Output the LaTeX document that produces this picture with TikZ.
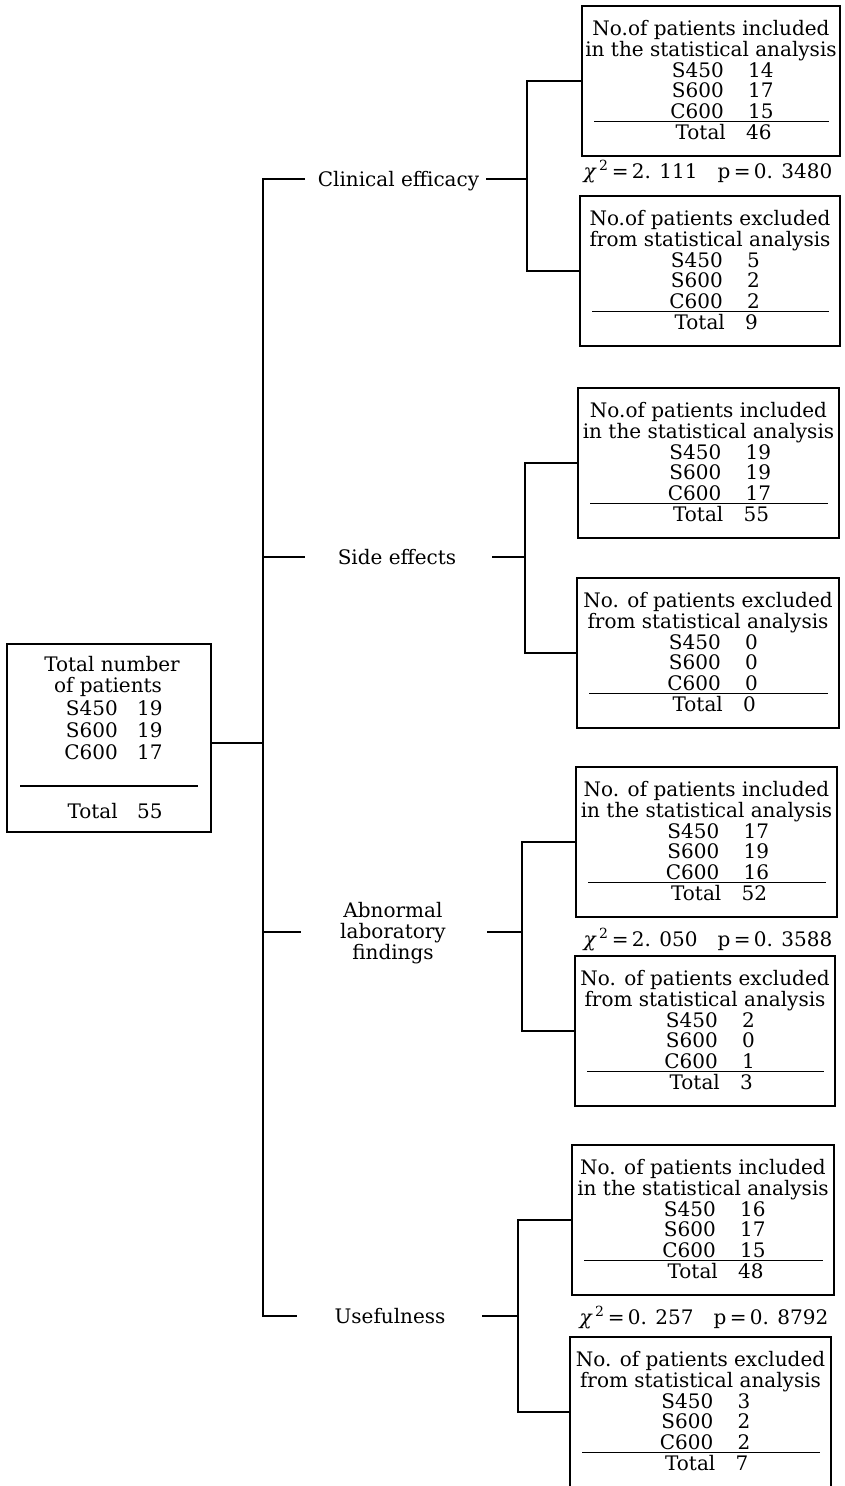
\documentclass[tikz,border=0pt]{standalone}
\usepackage{fontspec}
\setmainfont{DejaVu Serif}
\def\splitnums#1/#2/#3/#4\relax{\def\nA{#1}\def\nB{#2}\def\nC{#3}\def\nT{#4}}
\newcommand{\databox}[7]{%
  \splitnums#7\relax
  \pgfmathsetmacro\bxc{(#2+#4)/2}%
  \pgfmathsetmacro\bw{#4-#2}%
  \node[boxst, minimum width=\bw pt] (#1) at (\bxc,#3+75) {};
  \node[txt, anchor=base] (#1-t1) at (\bxc,#3+29) {#5};
  \node[txt, anchor=base] (#1-t2) at (\bxc,#3+50) {#6};
  \node[txt, anchor=base east] (#1-l1) at (\bxc+13,#3+71) {S450};
  \node[txt, anchor=base west] (#1-n1) at (\bxc+37,#3+71) {\nA};
  \node[txt, anchor=base east] (#1-l2) at (\bxc+13,#3+91.5) {S600};
  \node[txt, anchor=base west] (#1-n2) at (\bxc+37,#3+91.5) {\nB};
  \node[txt, anchor=base east] (#1-l3) at (\bxc+13,#3+112) {C600};
  \node[txt, anchor=base west] (#1-n3) at (\bxc+37,#3+112) {\nC};
  \node[txt, anchor=base east] (#1-lt) at (\bxc+15,#3+133) {Total};
  \node[txt, anchor=base west] (#1-nt) at (\bxc+35,#3+133) {\nT};
  \draw[rulest] (#2+12,#3+115.5) -- (#4-11,#3+115.5);
}
\newcommand{\chisq}[2]{{\itshape χ}\,\textsuperscript{2}\,=\,#1\hspace{20pt}p\,=\,#2}
\begin{document}
\begin{tikzpicture}[x=1pt,y=-1pt,
  txt/.style={font=\fontsize{20}{20.8}\selectfont, inner sep=0pt},
  boxst/.style={draw, line width=1.5pt, minimum height=150pt, inner sep=0pt},
  wire/.style={line width=1.5pt},
  rulest/.style={line width=1.2pt}]
\useasboundingbox (0,0) rectangle (844,1486);

% main box
\node[boxst, minimum width=204pt, minimum height=188pt] (main) at (109,738) {};
\node[txt, anchor=base] (m-t1) at (112,671) {Total number};
\node[txt, anchor=base] (m-t2) at (108,692) {of patients};
\node[txt, anchor=base east] (m-l1) at (118,715) {S450};
\node[txt, anchor=base west] (m-n1) at (137,715) {19};
\node[txt, anchor=base east] (m-l2) at (118,737) {S600};
\node[txt, anchor=base west] (m-n2) at (137,737) {19};
\node[txt, anchor=base east] (m-l3) at (118,759) {C600};
\node[txt, anchor=base west] (m-n3) at (137,759) {17};
\node[txt, anchor=base east] (m-lt) at (118,818) {Total};
\node[txt, anchor=base west] (m-nt) at (137,818) {55};
\draw[rulest] (20,786) -- (198,786);

% data boxes
\databox{b1}{582}{6}{840}{No.of patients included}{in the statistical analysis}{14/17/15/46}
\databox{b2}{580}{196}{840}{No.of patients excluded}{from statistical analysis}{5/2/2/9}
\databox{b3}{578}{388}{839}{No.of patients included}{in the statistical analysis}{19/19/17/55}
\databox{b4}{577}{578}{839}{No. of patients excluded}{from statistical analysis}{0/0/0/0}
\databox{b5}{576}{767}{837}{No. of patients included}{in the statistical analysis}{17/19/16/52}
\databox{b6}{575}{956}{835}{No. of patients excluded}{from statistical analysis}{2/0/1/3}
\databox{b7}{572}{1145}{834}{No. of patients included}{in the statistical analysis}{16/17/15/48}
\databox{b8}{570}{1337}{831}{No. of patients excluded}{from statistical analysis}{3/2/2/7}

% chi-square labels
\node[txt, anchor=base] (chi1) at (708,178) {\chisq{2. 111}{0. 3480}};
\node[txt, anchor=base] (chi2) at (708,946) {\chisq{2. 050}{0. 3588}};
\node[txt, anchor=base] (chi3) at (704,1324) {\chisq{0. 257}{0. 8792}};

% branch labels
\node[txt, anchor=base] (ce) at (398.5,186) {Clinical efficacy};
\node[txt, anchor=base] (se) at (397,564) {Side effects};
\node[txt, align=center] (ab) at (393,933) {Abnormal\\laboratory\\findings};
\node[txt, anchor=base] (us) at (390,1323) {Usefulness};

% coordinates
\coordinate (ceL) at (263,179); \coordinate (ceA) at (305,179);
\coordinate (ceB) at (486,179); \coordinate (ceJ) at (527,179);
\coordinate (seL) at (263,557); \coordinate (seA) at (305,557);
\coordinate (seB) at (492,557); \coordinate (seJ) at (525,557);
\coordinate (abL) at (263,932); \coordinate (abA) at (301,932);
\coordinate (abB) at (487,932); \coordinate (abJ) at (522,932);
\coordinate (usL) at (263,1316); \coordinate (usA) at (297,1316);
\coordinate (usB) at (482,1316); \coordinate (usJ) at (518,1316);
\coordinate (mainT) at (263,743);

% trunk and ticks
\draw[wire] (ceA) -- (ceL) -- (usL) -- (usA);
\draw[wire] (seL) -- (seA);
\draw[wire] (abL) -- (abA);
\draw[wire] (main.east |- mainT) -- (mainT);

% right-hand connectors
\draw[wire] (ceB) -- (ceJ);
\draw[wire] (b1.west) -| (ceJ) |- (b2.west);
\draw[wire] (seB) -- (seJ);
\draw[wire] (b3.west) -| (seJ) |- (b4.west);
\draw[wire] (abB) -- (abJ);
\draw[wire] (b5.west) -| (abJ) |- (b6.west);
\draw[wire] (usB) -- (usJ);
\draw[wire] (b7.west) -| (usJ) |- (b8.west);
\end{tikzpicture}
\end{document}
